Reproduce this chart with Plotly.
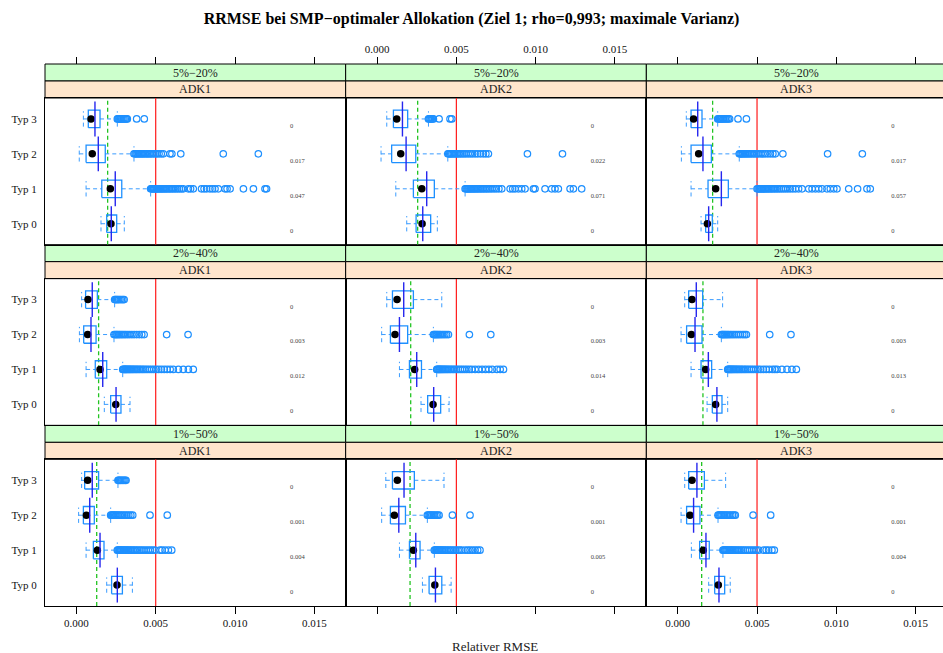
import plotly.graph_objects as go

W, H = 943, 653

ROWS = ["5%−20%", "2%−40%", "1%−50%"]
COLS = ["ADK1", "ADK2", "ADK3"]
TYPES = ["Typ 0", "Typ 1", "Typ 2", "Typ 3"]
TICKS = [0.000, 0.005, 0.010, 0.015]
TICK_TEXT = ["0.000", "0.005", "0.010", "0.015"]
LIMIT = 0.005          # red reference line
UNIT = 1e-3            # all RMSE values below are given in units of 1e-3

# Panels are listed row by row (5%−20% ADK1, ADK2, ADK3, 2%−40% ADK1, ...);
# every inner list follows TYPES (Typ 0, Typ 1, Typ 2, Typ 3).
whisker_low = [
    [1.55, 0.61, 0.18, 0.44], [1.87, 1.18, 0.25, 0.61], [1.47, 0.84, 0.23, 0.54],
    [1.76, 0.61, 0.19, 0.33], [2.77, 1.41, 0.29, 0.61], [1.85, 0.84, 0.21, 0.44],
    [1.91, 0.61, 0.14, 0.33], [2.86, 1.41, 0.29, 0.55], [1.95, 0.86, 0.21, 0.44],
]
quartile_1 = [
    [1.91, 1.60, 0.61, 0.75], [2.46, 2.29, 0.92, 1.03], [1.76, 1.91, 0.84, 0.84],
    [2.16, 1.19, 0.46, 0.58], [3.19, 2.04, 0.84, 0.97], [2.18, 1.47, 0.56, 0.69],
    [2.22, 1.07, 0.44, 0.52], [3.28, 2.04, 0.84, 0.97], [2.33, 1.38, 0.56, 0.69],
]
median = [
    [2.18, 2.14, 1.00, 0.92], [2.84, 2.82, 1.49, 1.24], [1.87, 2.39, 1.32, 1.00],
    [2.48, 1.49, 0.71, 0.73], [3.53, 2.37, 1.13, 1.26], [2.39, 1.76, 0.86, 0.90],
    [2.56, 1.32, 0.63, 0.71], [3.64, 2.29, 1.09, 1.28], [2.56, 1.61, 0.77, 0.90],
]
quartile_3 = [
    [2.54, 2.86, 1.82, 1.49], [3.38, 3.61, 2.44, 1.93], [2.18, 3.19, 2.12, 1.53],
    [2.81, 1.91, 1.24, 1.32], [4.01, 2.80, 1.93, 2.29], [2.79, 2.14, 1.53, 1.57],
    [2.90, 1.74, 1.13, 1.40], [4.08, 2.71, 1.79, 2.35], [2.96, 1.99, 1.40, 1.68],
]
whisker_high = [
    [3.02, 4.68, 3.63, 2.58], [3.80, 5.55, 4.46, 3.24], [2.52, 5.00, 3.88, 2.52],
    [3.38, 2.92, 2.37, 2.41], [4.54, 3.76, 3.55, 4.08], [3.15, 3.15, 2.75, 2.83],
    [3.53, 2.58, 2.16, 2.62], [4.67, 3.61, 3.17, 4.22], [3.31, 2.85, 2.54, 3.02],
]
mean_value = [
    [2.20, 2.45, 1.38, 1.17], [2.88, 3.13, 1.83, 1.60], [1.95, 2.75, 1.59, 1.26],
    [2.50, 1.66, 0.92, 1.00], [3.57, 2.50, 1.41, 1.68], [2.47, 1.93, 1.09, 1.17],
    [2.58, 1.49, 0.84, 1.00], [3.68, 2.44, 1.37, 1.70], [2.60, 1.78, 1.00, 1.21],
]
# green dashed reference per panel
reference_value = [1.97, 2.56, 2.20, 1.40, 2.12, 1.59, 1.28, 2.08, 1.51]

# share of runs above the limit, printed at the right of each row
share_above = [
    ["0", "0.047", "0.017", "0"], ["0", "0.071", "0.022", "0"], ["0", "0.057", "0.017", "0"],
    ["0", "0.012", "0.003", "0"], ["0", "0.014", "0.003", "0"], ["0", "0.013", "0.003", "0"],
    ["0", "0.004", "0.001", "0"], ["0", "0.005", "0.001", "0"], ["0", "0.004", "0.001", "0"],
]

outliers = [
    # 5%−20% ADK1
    [[],
     [4.68, 4.74, 4.80, 4.86, 4.92, 4.98, 5.04, 5.10, 5.17, 5.24, 5.31, 5.38, 5.45, 5.53,
      5.61, 5.69, 5.78, 5.87, 5.96, 6.06, 6.16, 6.27, 6.38, 6.50, 6.62, 6.74, 7.06, 7.20,
      7.37, 7.89, 8.05, 8.21, 8.42, 8.58, 8.74, 8.95, 9.37, 9.50, 9.69, 10.53, 11.16,
      11.89, 11.99],
     [3.63, 3.70, 3.76, 3.84, 3.92, 3.99, 4.07, 4.15, 4.22, 4.31, 4.40, 4.48, 4.57, 4.66,
      4.75, 4.86, 4.97, 5.08, 5.21, 5.35, 5.48, 5.90, 6.02, 6.58, 9.26, 11.47],
     [2.58, 2.63, 2.68, 2.74, 2.80, 2.86, 2.93, 3.00, 3.08, 3.15, 3.21, 3.80, 4.28]],
    # 5%−20% ADK2
    [[],
     [5.55, 5.61, 5.67, 5.73, 5.79, 5.85, 5.91, 5.98, 6.05, 6.12, 6.19, 6.27, 6.35, 6.43,
      6.52, 6.61, 6.70, 6.80, 6.90, 7.00, 7.12, 7.24, 7.38, 7.52, 7.68, 7.86, 8.39, 8.55,
      8.70, 8.91, 9.12, 9.33, 9.86, 9.96, 10.59, 11.01, 11.22, 11.43, 12.17, 12.38, 12.90],
     [4.46, 4.52, 4.58, 4.65, 4.72, 4.80, 4.88, 4.97, 5.06, 5.15, 5.25, 5.36, 5.48, 5.60,
      5.74, 5.88, 6.02, 6.18, 6.34, 6.52, 6.70, 6.86, 7.02, 9.48, 11.69],
     [3.24, 3.30, 3.36, 3.42, 3.49, 3.55, 3.91, 4.60, 4.71]],
    # 5%−20% ADK3
    [[],
     [5.00, 5.06, 5.12, 5.18, 5.24, 5.30, 5.37, 5.44, 5.51, 5.58, 5.66, 5.74, 5.82, 5.91,
      6.00, 6.10, 6.20, 6.31, 6.42, 6.54, 6.67, 6.80, 6.94, 7.09, 7.25, 7.42, 7.62, 7.84,
      8.26, 8.47, 8.68, 8.89, 9.10, 9.41, 9.62, 9.84, 10.04, 10.78, 11.34, 11.93, 12.14],
     [3.88, 3.94, 4.00, 4.07, 4.14, 4.22, 4.30, 4.38, 4.47, 4.56, 4.66, 4.76, 4.87, 4.98,
      5.10, 5.24, 5.38, 5.52, 5.68, 5.84, 6.00, 6.15, 6.63, 9.45, 11.64],
     [2.52, 2.58, 2.64, 2.70, 2.77, 2.84, 2.92, 3.00, 3.09, 3.18, 3.27, 3.80, 4.33]],
    # 2%−40% ADK1
    [[],
     [2.92, 2.97, 3.02, 3.07, 3.12, 3.17, 3.23, 3.29, 3.35, 3.41, 3.48, 3.55, 3.62, 3.70,
      3.78, 3.86, 3.95, 4.04, 4.14, 4.24, 4.35, 4.47, 4.60, 4.74, 4.88, 5.03, 5.19, 5.36,
      5.54, 5.72, 5.91, 6.11, 6.43, 6.74, 7.06, 7.37],
     [2.37, 2.44, 2.51, 2.58, 2.66, 2.74, 2.83, 2.92, 3.02, 3.12, 3.24, 3.36, 3.50, 3.64,
      3.80, 3.96, 4.12, 4.27, 5.69, 7.04],
     [2.41, 2.47, 2.53, 2.60, 2.67, 2.75, 2.84, 2.93, 3.01]],
    # 2%−40% ADK2
    [[],
     [3.76, 3.81, 3.86, 3.91, 3.96, 4.02, 4.08, 4.14, 4.21, 4.28, 4.35, 4.43, 4.51, 4.60,
      4.69, 4.79, 4.89, 5.00, 5.12, 5.25, 5.38, 5.52, 5.66, 5.81, 5.97, 6.18, 6.40, 6.62,
      6.84, 7.05, 7.26, 7.56, 7.76, 7.97],
     [3.55, 3.61, 3.67, 3.74, 3.81, 3.89, 3.97, 4.06, 4.16, 4.27, 4.38, 4.50, 5.82, 7.17],
     []],
    # 2%−40% ADK3
    [[],
     [3.15, 3.20, 3.25, 3.30, 3.36, 3.42, 3.48, 3.54, 3.61, 3.68, 3.75, 3.83, 3.91, 4.00,
      4.09, 4.19, 4.29, 4.40, 4.52, 4.65, 4.78, 4.92, 5.07, 5.23, 5.40, 5.58, 5.77, 5.97,
      6.12, 6.26, 6.57, 6.89, 7.20, 7.48],
     [2.75, 2.81, 2.87, 2.94, 3.01, 3.09, 3.17, 3.26, 3.36, 3.47, 3.58, 3.70, 3.83, 3.96,
      4.10, 4.22, 4.33, 5.80, 7.14],
     []],
    # 1%−50% ADK1
    [[],
     [2.58, 2.63, 2.68, 2.73, 2.78, 2.84, 2.90, 2.96, 3.02, 3.09, 3.16, 3.23, 3.31, 3.39,
      3.48, 3.57, 3.67, 3.77, 3.88, 4.00, 4.12, 4.25, 4.39, 4.53, 4.67, 4.81, 4.96, 5.27,
      5.40, 5.59, 5.80, 6.01],
     [2.16, 2.22, 2.28, 2.34, 2.41, 2.48, 2.56, 2.64, 2.73, 2.83, 2.94, 3.06, 3.18, 3.30,
      3.43, 3.55, 4.64, 5.73],
     [2.62, 2.67, 2.73, 2.79, 2.86, 2.93, 3.00, 3.07, 3.13]],
    # 1%−50% ADK2
    [[],
     [3.61, 3.66, 3.71, 3.76, 3.82, 3.88, 3.94, 4.01, 4.08, 4.16, 4.24, 4.33, 4.42, 4.52,
      4.62, 4.73, 4.85, 4.97, 5.10, 5.22, 5.34, 5.55, 5.72, 5.86, 6.02, 6.18, 6.34, 6.49],
     [3.17, 3.23, 3.30, 3.37, 3.45, 3.53, 3.62, 3.72, 3.82, 3.91, 4.75, 5.86],
     []],
    # 1%−50% ADK3
    [[],
     [2.85, 2.90, 2.95, 3.00, 3.06, 3.12, 3.18, 3.25, 3.32, 3.39, 3.47, 3.55, 3.64, 3.73,
      3.83, 3.93, 4.04, 4.15, 4.27, 4.40, 4.53, 4.67, 4.81, 4.95, 5.10, 5.42, 5.58, 5.73,
      5.94, 6.09],
     [2.54, 2.60, 2.66, 2.73, 2.80, 2.88, 2.96, 3.05, 3.14, 3.24, 3.34, 3.45, 3.55, 3.63,
      4.75, 5.86],
     []],
]

# ---------------------------------------------------------------- layout geometry (px)
COL_LEFT = [45.0, 345.67, 646.33]
COL_RIGHT = [345.67, 646.33, 943.0]
GRID_TOP = 64.0
BLOCK = 180.67          # strip pair + panel
STRIP = 17.0
PX_PER_UNIT = 15860.0
X_MIN = -0.00198
Y_RANGE = [0.4, 4.6]
LABEL_X = 0.01347

BOX_COLOR = "#1e90ff"
WHISKER_COLOR = "#3a9cff"
MEAN_COLOR = "#2626ee"
REF_COLOR = "#22c422"
SERIF = "Liberation Serif, Times New Roman, serif"


def px(x):
    return x / W


def py(y):
    return 1 - y / H


fig = go.Figure()
shapes, annotations = [], []
layout_axes = {}

for r in range(3):
    strip_top = GRID_TOP + r * BLOCK
    panel_top = strip_top + 2 * STRIP
    panel_bot = strip_top + BLOCK
    for c in range(3):
        k = r * 3 + c
        n = k + 1
        xa = "x" if n == 1 else f"x{n}"
        ya = "y" if n == 1 else f"y{n}"
        x_max = X_MIN + (COL_RIGHT[c] - COL_LEFT[c]) / PX_PER_UNIT
        bottom_row = r == 2
        show_x_labels = bottom_row and c != 1
        layout_axes["xaxis" if n == 1 else f"xaxis{n}"] = dict(
            domain=[px(COL_LEFT[c]), px(COL_RIGHT[c])],
            anchor=ya,
            range=[X_MIN, x_max],
            showgrid=False, zeroline=False,
            showline=True, mirror=True, linecolor="black", linewidth=1,
            ticks="outside" if bottom_row else "",
            ticklen=7, tickcolor="black", tickwidth=1,
            tickvals=TICKS, ticktext=TICK_TEXT,
            showticklabels=show_x_labels,
            tickfont=dict(family=SERIF, size=11, color="#111"),
        )
        layout_axes["yaxis" if n == 1 else f"yaxis{n}"] = dict(
            domain=[py(panel_bot), py(panel_top)],
            anchor=xa,
            range=Y_RANGE,
            showgrid=False, zeroline=False,
            showline=True, mirror=(c != 2), linecolor="black", linewidth=1,
            tickvals=[1, 2, 3, 4], ticktext=TYPES,
            showticklabels=(c == 0),
            ticks="outside", ticklen=5, tickcolor="rgba(0,0,0,0)",
            tickfont=dict(family=SERIF, size=11, color="#111"),
        )

        # strips: outer condition (green) above inner condition (peach)
        x1_strip = px(COL_RIGHT[c]) if c < 2 else 1.01
        for j, (label, fill) in enumerate([(ROWS[r], "#ccffcc"), (COLS[c], "#ffe5cc")]):
            top = strip_top + j * STRIP
            shapes.append(dict(type="rect", xref="paper", yref="paper",
                               x0=px(COL_LEFT[c]), x1=x1_strip,
                               y0=py(top + STRIP), y1=py(top),
                               fillcolor=fill, line=dict(color="black", width=1), layer="below"))
            annotations.append(dict(xref="paper", yref="paper",
                                    x=(px(COL_LEFT[c]) + px(COL_RIGHT[c] if c < 2 else 946)) / 2,
                                    y=py(top + STRIP / 2), text=label, showarrow=False,
                                    font=dict(family=SERIF, size=12, color="#222"),
                                    xanchor="center", yanchor="middle"))

        lo = [v * UNIT for v in whisker_low[k]]
        q1 = [v * UNIT for v in quartile_1[k]]
        md = [v * UNIT for v in median[k]]
        q3 = [v * UNIT for v in quartile_3[k]]
        hi = [v * UNIT for v in whisker_high[k]]
        mn = [v * UNIT for v in mean_value[k]]
        g = reference_value[k] * UNIT
        ys = [1, 2, 3, 4]

        common = dict(xaxis=xa, yaxis=ya, showlegend=False, hoverinfo="skip")

        # reference lines
        fig.add_trace(go.Scatter(x=[g, g], y=Y_RANGE, mode="lines",
                                 line=dict(color=REF_COLOR, width=1.3, dash="4px,3px"), **common))
        fig.add_trace(go.Scatter(x=[LIMIT, LIMIT], y=Y_RANGE, mode="lines",
                                 line=dict(color="#ff1a1a", width=1.2), **common))

        # whiskers and caps
        wx, wy, cx, cy, bx, by, mx, my = [], [], [], [], [], [], [], []
        for i, yv in enumerate(ys):
            wx += [lo[i], q1[i], None, q3[i], hi[i], None]
            wy += [yv, yv, None, yv, yv, None]
            cx += [lo[i], lo[i], None, hi[i], hi[i], None]
            cy += [yv - 0.22, yv + 0.22, None, yv - 0.22, yv + 0.22, None]
            bx += [q1[i], q3[i], q3[i], q1[i], q1[i], None]
            by += [yv - 0.25, yv - 0.25, yv + 0.25, yv + 0.25, yv - 0.25, None]
            mx += [mn[i], mn[i], None]
            my += [yv - 0.5, yv + 0.5, None]
        fig.add_trace(go.Scatter(x=wx, y=wy, mode="lines",
                                 line=dict(color=WHISKER_COLOR, width=1, dash="4px,3px"), **common))
        fig.add_trace(go.Scatter(x=cx, y=cy, mode="lines",
                                 line=dict(color=WHISKER_COLOR, width=1, dash="4px,3px"), **common))
        fig.add_trace(go.Scatter(x=bx, y=by, mode="lines",
                                 line=dict(color=BOX_COLOR, width=1.3), **common))

        # outliers
        ox, oy = [], []
        for i, yv in enumerate(ys):
            for v in outliers[k][i]:
                ox.append(v * UNIT)
                oy.append(yv)
        fig.add_trace(go.Scatter(x=ox, y=oy, mode="markers",
                                 marker=dict(symbol="circle-open", size=6.5, color=BOX_COLOR,
                                             line=dict(width=1.2, color=BOX_COLOR)), **common))

        # medians and mean bars
        fig.add_trace(go.Scatter(x=md, y=ys, mode="markers",
                                 marker=dict(symbol="circle", size=7.5, color="black"), **common))
        fig.add_trace(go.Scatter(x=mx, y=my, mode="lines",
                                 line=dict(color=MEAN_COLOR, width=1.4), **common))

        # share above the limit
        fig.add_trace(go.Scatter(x=[LABEL_X] * 4, y=[yv - 0.21 for yv in ys], mode="text",
                                 text=share_above[k], textposition="middle right",
                                 textfont=dict(family=SERIF, size=6.5, color="#444"), **common))

# top axis ticks above the first row of strips, labelled over the middle column
for c in range(3):
    n = 10 + c
    x_max = X_MIN + (COL_RIGHT[c] - COL_LEFT[c]) / PX_PER_UNIT
    layout_axes[f"xaxis{n}"] = dict(
        domain=[px(COL_LEFT[c]), px(COL_RIGHT[c])],
        anchor="free", position=py(GRID_TOP), side="top",
        range=[X_MIN, x_max], showgrid=False, zeroline=False, showline=False,
        ticks="outside", ticklen=7, tickcolor="black", tickwidth=1,
        tickvals=TICKS, ticktext=TICK_TEXT, showticklabels=(c == 1),
        tickfont=dict(family=SERIF, size=11, color="#111"),
    )
    # a tiny invisible companion axis just above the strips
    layout_axes[f"yaxis{n}"] = dict(domain=[py(GRID_TOP), py(GRID_TOP - 1)],
                                    anchor=f"x{n}", visible=False, range=[0, 1])
    fig.add_trace(go.Scatter(x=[None], y=[None], xaxis=f"x{n}", yaxis=f"y{n}",
                             mode="markers", showlegend=False, hoverinfo="skip"))

annotations.append(dict(xref="paper", yref="paper", x=px(495.5), y=py(646),
                        text="Relativer RMSE", showarrow=False,
                        font=dict(family=SERIF, size=13, color="#222"),
                        xanchor="center", yanchor="middle"))

fig.update_layout(
    width=W, height=H,
    margin=dict(l=0, r=0, t=0, b=0),
    paper_bgcolor="white", plot_bgcolor="rgba(0,0,0,0)",
    title=dict(text="<b>RRMSE bei SMP−optimaler Allokation (Ziel 1; rho=0,993; maximale Varianz)</b>",
               x=0.5, xanchor="center", y=py(18), yanchor="middle",
               font=dict(family=SERIF, size=16, color="black")),
    shapes=shapes, annotations=annotations,
    **layout_axes,
)

fig.write_html("out.html")
